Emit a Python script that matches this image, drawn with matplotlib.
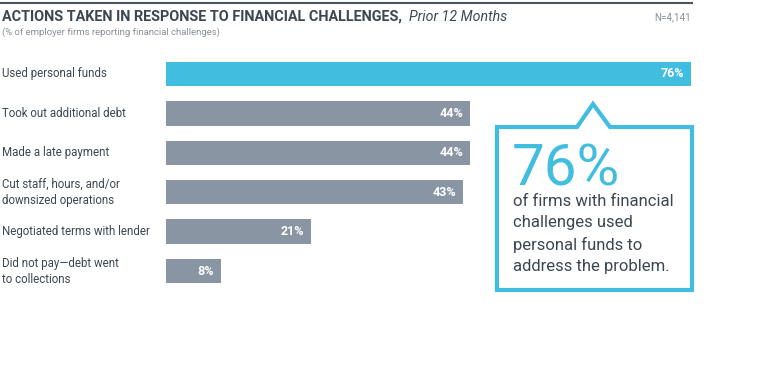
import matplotlib.pyplot as plt
import matplotlib.transforms as mtransforms
from matplotlib.patches import Polygon
from matplotlib.lines import Line2D

categories = ['Used personal funds',
              'Took out additional debt',
              'Made a late payment',
              'Cut staff, hours, and/or\ndownsized operations',
              'Negotiated terms with lender',
              'Did not pay\u2014debt went\nto collections']
values = [76, 44, 44, 43, 21, 8]
highlight = [True, False, False, False, False, False]

W, H = 768, 381
blue = '#41bde0'
grey = '#8a95a3'
dark = '#3d4752'

plt.rcParams['font.family'] = ['Roboto', 'DejaVu Sans']

fig = plt.figure(figsize=(W / 100, H / 100), dpi=100)
fig.patch.set_facecolor('white')


def fx(px):
    return px / W


def fy(py):
    return 1 - py / H


# bar axes: x 166..691 px maps to 0..76
ax = fig.add_axes([fx(166), fy(290.75), fx(691 - 166), (290.75 - 54.25) / H])
ypos = list(range(len(categories)))
colors = [blue if h else grey for h in highlight]
ax.barh(ypos, values, height=0.62, color=colors, zorder=2)
ax.set_xlim(0, 76)
ax.set_ylim(len(categories) - 0.5, -0.5)
ax.axis('off')

for y, v in zip(ypos, values):
    ax.text(v - 1.0, y, f'{v}%', color='white', fontsize=9, fontweight='bold',
            ha='right', va='center')

trans = mtransforms.blended_transform_factory(fig.transFigure, ax.transData)
for y, c in zip(ypos, categories):
    ax.text(fx(2), y, c, transform=trans,
            fontsize=8.3, color=dark, ha='left', va='center', linespacing=1.3)

# header
fig.add_artist(Line2D([0, fx(692)], [fy(3), fy(3)], color='#4a5560', lw=1.5))
fig.text(fx(2), fy(17), 'ACTIONS TAKEN IN RESPONSE TO FINANCIAL CHALLENGES,',
         fontsize=10.4, fontweight='bold', color=dark, va='center')
fig.text(fx(409), fy(17), 'Prior 12 Months', fontsize=10.2, style='italic',
         color=dark, va='center')
fig.text(fx(2), fy(32), '(% of employer firms reporting financial challenges)',
         fontsize=6.8, color='#8a8f96', va='center')
fig.text(fx(691), fy(17), 'N=4,141', fontsize=7, color='#8a8f96',
         ha='right', va='center')

# callout box
pts = [(497, 127), (577, 127), (593, 104), (610, 127), (692, 127),
       (692, 290), (497, 290)]
poly = Polygon([(fx(x), fy(y)) for x, y in pts], closed=True, fill=False,
               edgecolor=blue, lw=3, joinstyle='miter',
               transform=fig.transFigure)
fig.add_artist(poly)
fig.text(fx(512), fy(186), '76%', fontsize=42, color=blue,
         va='baseline', ha='left')
fig.text(fx(513), fy(234),
         'of firms with financial\nchallenges used\npersonal funds to\naddress the problem.',
         fontsize=12, color=dark, va='center', ha='left', linespacing=1.5)

fig.savefig('out.png', dpi=100, facecolor='white')
